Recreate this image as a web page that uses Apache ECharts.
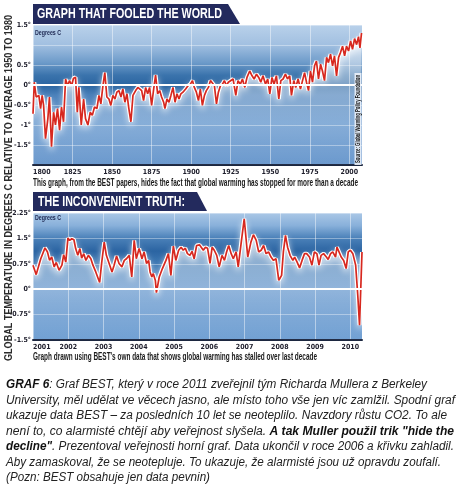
<!DOCTYPE html>
<html><head><meta charset="utf-8">
<script src="https://cdn.jsdelivr.net/npm/echarts@6/dist/echarts.min.js"></script>
<style>html,body{margin:0;padding:0;background:#fff;}#c{width:465px;height:497px;}</style>
</head><body><div id="c"></div>
<script>
// ---------- data ----------
const topYears = [1800.0,1800.8,1802.0,1803.7,1804.8,1805.8,1806.7,1807.9,1809.4,1810.4,1811.7,1813.0,1814.2,1815.5,1816.8,1818.0,1819.3,1820.6,1821.8,1823.1,1824.4,1825.6,1826.9,1828.0,1829.0,1830.5,1832.0,1833.2,1834.7,1836.2,1837.5,1838.9,1840.4,1841.7,1842.9,1844.2,1845.4,1846.7,1848.0,1849.2,1850.5,1851.8,1853.0,1854.3,1855.6,1856.8,1858.1,1859.4,1860.6,1861.9,1863.2,1864.9,1866.3,1867.4,1868.7,1869.9,1871.2,1872.5,1873.7,1875.0,1876.3,1877.5,1878.8,1880.1,1881.3,1882.6,1883.4,1884.7,1886.0,1887.2,1888.5,1889.8,1891.0,1892.3,1893.5,1894.8,1896.5,1898.0,1899.5,1900.8,1902.0,1903.3,1904.6,1905.8,1907.1,1908.4,1909.6,1910.9,1912.2,1913.4,1914.7,1916.0,1917.2,1918.5,1919.8,1921.0,1922.3,1923.5,1924.4,1926.5,1928.2,1929.6,1931.1,1932.4,1933.9,1935.3,1937.0,1938.5,1939.8,1941.3,1942.7,1944.0,1945.4,1947.0,1948.4,1949.7,1951.1,1952.4,1953.9,1955.4,1956.7,1958.1,1959.6,1960.9,1962.3,1963.4,1964.9,1966.1,1967.6,1969.1,1970.4,1971.7,1972.9,1974.2,1975.4,1976.7,1978.0,1979.2,1980.5,1981.8,1983.0,1984.3,1985.6,1986.8,1988.1,1989.4,1990.6,1991.9,1993.2,1994.4,1995.7,1997.0,1998.2,1999.5,2000.8,2002.0,2003.3,2004.6,2005.8,2006.7,2007.7];
const topTemps = [-0.72,0.07,-0.30,-0.26,-0.59,-0.26,-0.51,-1.34,-0.84,-0.30,-1.54,-0.68,-1.00,-0.59,-1.13,-0.55,-0.92,0.15,-0.02,0.11,-0.02,0.17,0.19,-0.68,-0.06,-1.00,-0.35,-0.84,-1.00,-0.68,-0.76,-0.55,-0.59,-0.26,-0.47,-0.02,0.31,-0.30,-0.35,-0.51,-0.26,-0.35,-0.18,-0.14,-0.30,-0.10,-0.43,-0.22,-0.59,-0.92,-0.26,-0.14,-0.06,-0.06,-0.14,-0.39,-0.06,-0.22,-0.06,-0.51,-0.10,0.25,-0.22,-0.14,-0.30,-0.43,-0.59,-0.35,-0.43,-0.26,-0.06,-0.43,-0.22,-0.35,-0.22,-0.18,-0.10,-0.02,0.02,0.11,-0.06,-0.18,-0.39,-0.10,-0.51,-0.26,-0.14,-0.06,0.11,0.15,-0.02,-0.47,-0.18,-0.02,0.02,0.11,-0.02,0.07,0.11,0.15,-0.26,0.11,0.02,0.15,-0.06,0.19,0.35,0.23,0.15,0.27,0.19,0.07,0.23,0.02,0.15,-0.22,0.19,0.02,0.23,-0.35,0.11,0.15,0.27,0.15,0.23,-0.26,0.11,-0.06,0.15,-0.10,0.11,0.31,0.07,-0.14,0.35,0.07,0.48,0.60,0.15,0.52,0.35,0.11,0.69,0.56,0.77,0.48,0.73,0.23,0.69,0.81,0.97,0.73,0.97,0.85,1.10,0.89,1.16,1.01,1.21,0.93,1.30];
const topXTicks = [1800,1825,1850,1875,1900,1925,1950,1975,2000];
const topYTicks = [1.5,0.5,0,-0.5,-1,-1.5];

const bottomTimes = [2001.00,2001.09,2001.22,2001.34,2001.41,2001.47,2001.53,2001.60,2001.66,2001.74,2001.82,2001.87,2001.93,2001.99,2002.04,2002.10,2002.16,2002.21,2002.27,2002.33,2002.38,2002.44,2002.50,2002.57,2002.64,2002.70,2002.78,2002.89,2002.95,2003.02,2003.08,2003.16,2003.24,2003.30,2003.37,2003.44,2003.52,2003.59,2003.65,2003.73,2003.80,2003.87,2003.93,2004.01,2004.09,2004.15,2004.22,2004.28,2004.32,2004.37,2004.41,2004.47,2004.50,2004.58,2004.67,2004.77,2004.84,2004.91,2004.98,2005.05,2005.13,2005.20,2005.26,2005.32,2005.38,2005.45,2005.51,2005.57,2005.64,2005.72,2005.77,2005.83,2005.89,2005.95,2006.02,2006.08,2006.14,2006.21,2006.28,2006.36,2006.43,2006.49,2006.55,2006.62,2006.68,2006.76,2006.82,2006.90,2006.99,2007.09,2007.18,2007.25,2007.33,2007.40,2007.47,2007.54,2007.61,2007.68,2007.75,2007.82,2007.89,2007.97,2008.05,2008.10,2008.16,2008.22,2008.29,2008.37,2008.42,2008.49,2008.56,2008.63,2008.70,2008.76,2008.84,2008.91,2008.98,2009.05,2009.11,2009.17,2009.24,2009.32,2009.37,2009.44,2009.50,2009.58,2009.62,2009.67,2009.74,2009.81,2009.88,2009.94,2010.00,2010.07,2010.15,2010.21,2010.26,2010.33];
const bottomTemps = [0.71,0.43,0.90,1.22,1.10,0.85,0.95,0.66,0.79,0.56,0.71,1.02,0.80,1.51,1.44,1.49,1.46,1.20,1.00,1.20,0.92,1.05,0.85,1.00,0.90,0.71,0.51,0.20,0.80,1.39,1.00,0.76,0.51,0.71,0.98,0.76,0.66,0.85,0.90,1.00,0.36,1.44,0.90,1.20,0.90,1.10,0.76,0.85,0.51,0.36,0.46,0.26,-0.10,0.36,0.61,0.85,1.05,0.41,1.27,0.85,1.15,1.24,1.15,1.21,1.05,1.00,1.12,0.90,1.29,1.31,1.24,1.15,1.24,1.21,0.76,1.24,1.15,1.00,0.66,1.00,0.85,1.10,1.29,1.05,0.90,1.10,0.66,1.34,2.08,0.95,1.39,1.61,1.44,1.10,1.15,1.29,1.05,1.10,0.95,0.85,0.90,0.26,0.41,1.10,1.59,1.24,1.00,0.85,0.95,0.80,0.63,0.85,1.05,1.05,0.95,0.71,1.10,1.05,0.71,1.00,1.05,0.95,0.88,1.05,1.10,0.95,1.24,1.29,0.95,0.85,0.61,1.10,1.15,1.05,0.71,-0.18,-1.06,1.10];
const bottomXTicks = [2001,2002,2003,2004,2005,2006,2007,2008,2009,2010];
const bottomYTicks = [2.25,1.5,0.75,0,-0.75,-1.5];

const titleTop = 'GRAPH THAT FOOLED THE WORLD';
const titleBottom = 'THE INCONVENIENT TRUTH:';
const captionTop = 'This graph, from the BEST papers, hides the fact that global warming has stopped for more than a decade';
const captionBottom = "Graph drawn using BEST's own data that shows global warming has stalled over last decade";
const sideLabel = 'GLOBAL TEMPERATURE IN DEGREES C RELATIVE TO AVERAGE 1950 TO 1980';
const sourceLabel = 'Source: Global Warming Policy Foundation';
const unitLabel = 'Degrees C';
const noteLines = [
  [['GRAF 6', true], [': Graf BEST, který v roce 2011 zveřejnil tým Richarda Mullera z Berkeley', false]],
  [['University, měl udělat ve věcech jasno, ale místo toho vše jen víc zamlžil. Spodní graf', false]],
  [['ukazuje data BEST – za posledních 10 let se neoteplilo. Navzdory růstu CO2. To ale', false]],
  [['není to, co alarmisté chtějí aby veřejnost slyšela. ', false], ['A tak Muller použil trik "hide the', true]],
  [['decline"', true], ['. Prezentoval veřejnosti horní graf. Data ukončil v roce 2006 a křivku zahladil.', false]],
  [['Aby zamaskoval, že se neotepluje. To ukazuje, že alarmisté jsou už opravdu zoufalí.', false]],
  [['(Pozn: BEST obsahuje jen data pevnin)', false]]
];
const noteWidths = [421, 449, 441, 448, 448, 435, 204];

// ---------- helpers ----------
const mctx = document.createElement('canvas').getContext('2d');
function measure(text, font){ mctx.font = font; return mctx.measureText(text).width; }
const NARROW = '"Liberation Sans Narrow","DejaVu Sans Condensed","Liberation Sans",sans-serif';
const SANS = '"Liberation Sans",Arial,sans-serif';
function grad(stops){ return {type:'linear',x:0,y:0,x2:0,y2:1,colorStops:stops.map(s=>({offset:s[0],color:s[1]}))}; }
function near(arr, v){ return arr.some(a => Math.abs(a - v) < 1e-6); }
function degFmt(v){ return (Math.round(v*100)/100).toString() + '°'; }
function fitText(x, y, text, font, target, fill, extra){
  const s = target / measure(text, font);
  return Object.assign({type:'text', x:x, y:y, scaleX:s, z:100, silent:true,
    style:{text:text, font:font, fill:fill, align:'left', verticalAlign:'middle', textAlign:'left', textVerticalAlign:'middle'}}, extra||{});
}
function pairs(xs, ys){ return xs.map((x,i)=>[x, ys[i]]); }

const topData = pairs(topYears, topTemps);
const botData = pairs(bottomTimes, bottomTemps);

// ---------- graphics ----------
const g = [];
g.push({type:'polygon', z:99, silent:true, shape:{points:[[33,4],[228,4],[240,24],[33,24]]}, style:{fill:'#232a5d'}});
g.push({type:'polygon', z:99, silent:true, shape:{points:[[33,192],[197,192],[207,211],[33,211]]}, style:{fill:'#232a5d'}});
const bannerFont = 'bold 14px ' + SANS;
g.push(fitText(37, 14.5, titleTop, bannerFont, 185, '#ffffff'));
g.push(fitText(38, 202.5, titleBottom, bannerFont, 147, '#ffffff'));
const capFont = 'bold 10px ' + SANS;
g.push(fitText(33, 183, captionTop, capFont, 325, '#1a1a1a'));
g.push(fitText(33, 357, captionBottom, capFont, 284, '#1a1a1a'));
const unitFont = 'bold 7px ' + SANS;
g.push(fitText(35, 33, unitLabel, unitFont, 26, '#1b2550'));
g.push(fitText(35, 218, unitLabel, unitFont, 26, '#1b2550'));
// rotated side label
(function(){
  const font = 'bold 11px ' + SANS;
  const s = 346 / measure(sideLabel, font);
  g.push({type:'text', x:8.5, y:188, rotation:Math.PI/2, scaleX:s, z:100, silent:true,
    style:{text:sideLabel, font:font, fill:'#2b2b2b', align:'center', verticalAlign:'middle', textAlign:'center', textVerticalAlign:'middle'}});
})();
// source label
g.push({type:'rect', z:99, silent:true, shape:{x:354.5, y:73, width:7, height:92}, style:{fill:'rgba(235,241,248,0.9)'}});
(function(){
  const font = 'bold 7px ' + SANS;
  const s = 88 / measure(sourceLabel, font);
  g.push({type:'text', x:358.2, y:119, rotation:Math.PI/2, scaleX:s, z:100, silent:true,
    style:{text:sourceLabel, font:font, fill:'#111', align:'center', verticalAlign:'middle', textAlign:'center', textVerticalAlign:'middle'}});
})();
// note paragraph
const noteFont = 'italic 12px ' + SANS;
const noteBold = 'italic bold 12px ' + SANS;
noteLines.forEach((segs, i) => {
  let w = 0, txt = '';
  segs.forEach(s => { w += measure(s[0], s[1] ? noteBold : noteFont); txt += s[1] ? '{b|' + s[0] + '}' : '{n|' + s[0] + '}'; });
  g.push({type:'text', x:6, y:385 + i*15.5, scaleX: noteWidths[i] / w, z:100, silent:true,
    style:{text:txt, align:'left', verticalAlign:'middle', textAlign:'left', textVerticalAlign:'middle',
      rich:{n:{font:noteFont, fill:'#222', color:'#222'}, b:{font:noteBold, fill:'#111', color:'#111'}}}});
});

// ---------- chart ----------
const axisLabelStyle = {fontSize:7, fontFamily:NARROW, fontWeight:'bold', color:'#1d1d2b'};
const splitStyle = {show:true, lineStyle:{color:'rgba(255,255,255,0.38)', width:1}};
const whiteArea = grad([[0,'rgba(255,255,255,0.85)'],[0.35,'rgba(255,255,255,0.6)'],[0.7,'rgba(255,255,255,0.25)'],[1,'rgba(255,255,255,0.04)']]);
const zeroLine = {silent:true, symbol:'none', label:{show:false}, lineStyle:{color:'#ffffff', width:2, type:'solid', opacity:1}, data:[{yAxis:0}]};

const option = {
  animation:false,
  backgroundColor:'#ffffff',
  grid:[
    {left:33, top:25, width:329, height:140, show:true, borderWidth:0,
     backgroundColor: grad([[0,'#b9d1ea'],[0.14,'#a2c0e1'],[0.27,'#6c9ac9'],[0.36,'#3a73ac'],[0.43,'#2b65a1'],[0.5,'#4a80ba'],[0.7,'#6b9bcf'],[1,'#6796cc']])},
    {left:33, top:213, width:329, height:127, show:true, borderWidth:0,
     backgroundColor: grad([[0,'#aac7e6'],[0.1,'#88b0da'],[0.2,'#4a80b8'],[0.3,'#2b64a2'],[0.4,'#3f79b4'],[0.6,'#6b9bcf'],[1,'#6e9ed2']])}
  ],
  xAxis:[
    {gridIndex:0, type:'value', min:1800, max:2008, interval:25,
     axisLine:{show:true, onZero:false, lineStyle:{color:'#1c2740', width:2}}, axisTick:{show:false},
     splitLine:{show:true, lineStyle:{color:'rgba(255,255,255,0.45)', width:1}},
     axisLabel:Object.assign({margin:4, alignMinLabel:'left', showMaxLabel:true, formatter:v=>near(topXTicks,v)?String(v):''}, axisLabelStyle)},
    {gridIndex:1, type:'value', min:2001, max:2010.33, interval:1,
     axisLine:{show:true, onZero:false, lineStyle:{color:'#1c2740', width:2}}, axisTick:{show:false},
     splitLine:{show:true, lineStyle:{color:'rgba(255,255,255,0.45)', width:1}},
     axisLabel:Object.assign({margin:4, alignMinLabel:'left', formatter:v=>near(bottomXTicks,v)?String(v):''}, axisLabelStyle)}
  ],
  yAxis:[
    {gridIndex:0, type:'value', min:-2, max:1.5, interval:0.5, axisLine:{show:false}, axisTick:{show:false},
     splitLine:splitStyle, axisLabel:Object.assign({margin:2, formatter:v=>near(topYTicks,v)?degFmt(v):''}, axisLabelStyle)},
    {gridIndex:1, type:'value', min:-1.5, max:2.25, interval:0.75, axisLine:{show:false}, axisTick:{show:false},
     splitLine:splitStyle, axisLabel:Object.assign({margin:2, formatter:v=>near(bottomYTicks,v)?degFmt(v):''}, axisLabelStyle)}
  ],
  series:[
    {type:'line', xAxisIndex:0, yAxisIndex:0, data:topData, symbol:'none', silent:true, z:2,
     lineStyle:{color:'#ffffff', width:4, shadowColor:'rgba(255,255,255,0.7)', shadowBlur:6, shadowOffsetY:3},
     areaStyle:{origin:'start', color:whiteArea}, markLine:zeroLine},
    {type:'line', xAxisIndex:0, yAxisIndex:0, data:topData, symbol:'none', silent:true, z:4,
     lineStyle:{color:'#d7281f', width:1.7}},
    {type:'line', xAxisIndex:1, yAxisIndex:1, data:botData, symbol:'none', silent:true, z:2,
     lineStyle:{color:'#ffffff', width:4, shadowColor:'rgba(255,255,255,0.7)', shadowBlur:6, shadowOffsetY:3},
     areaStyle:{origin:'start', color:whiteArea}, markLine:zeroLine},
    {type:'line', xAxisIndex:1, yAxisIndex:1, data:botData, symbol:'none', silent:true, z:4,
     lineStyle:{color:'#d7281f', width:1.7}}
  ],
  graphic:g
};
const chart = echarts.init(document.getElementById('c'), null, {renderer:'canvas'});
chart.setOption(option);
</script>
</body></html>
